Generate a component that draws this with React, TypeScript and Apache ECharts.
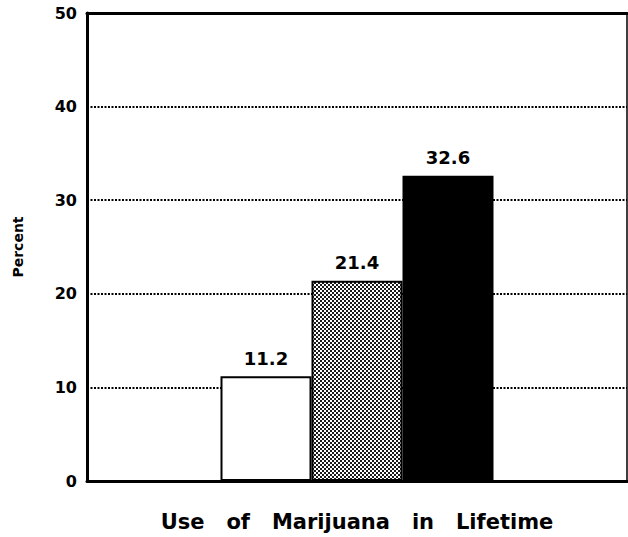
import React, { useEffect, useRef } from "react";
import * as echarts from "echarts";

const categories = ["Use of Marijuana in Lifetime"];
const seriesNames = ["Group A", "Group B", "Group C"];
const seriesValues = [11.2, 21.4, 32.6];
const yTicks = [0, 10, 20, 30, 40, 50];

function makePattern(): HTMLCanvasElement {
  const c = document.createElement("canvas");
  c.width = 4;
  c.height = 4;
  const ctx = c.getContext("2d")!;
  ctx.fillStyle = "#ffffff";
  ctx.fillRect(0, 0, 4, 4);
  ctx.fillStyle = "#1a1a1a";
  ctx.fillRect(0, 0, 2, 2);
  ctx.fillRect(2, 2, 2, 2);
  return c;
}

export default function App() {
  const ref = useRef<HTMLDivElement>(null);
  useEffect(() => {
    if (!ref.current) return;
    const chart = echarts.init(ref.current, undefined, { renderer: "svg" });
    const fills: any[] = ["#ffffff", { image: makePattern(), repeat: "repeat" }, "#000000"];
    const font = "'DejaVu Sans', 'Liberation Sans', Arial, sans-serif";
    chart.setOption({
      animation: false,
      backgroundColor: "#ffffff",
      grid: {
        left: 87,
        top: 13,
        right: 1,
        bottom: 56,
        show: true,
        borderColor: "#000",
        borderWidth: 1.5,
        backgroundColor: "transparent",
      },
      xAxis: [
        {
          type: "category",
          data: categories,
          position: "bottom",
          axisLine: { show: true, lineStyle: { color: "#000", width: 3 } },
          axisTick: { show: false },
          axisLabel: { show: false },
          name: "Use   of   Marijuana   in   Lifetime",
          nameLocation: "middle",
          nameGap: 30,
          nameTextStyle: { fontFamily: font, fontWeight: "bold", fontSize: 21, color: "#000" },
        },
        {
          type: "category",
          data: categories,
          position: "top",
          axisLine: { show: true, lineStyle: { color: "#000", width: 3 } },
          axisTick: { show: false },
          axisLabel: { show: false },
        },
      ],
      yAxis: {
        type: "value",
        min: yTicks[0],
        max: yTicks[yTicks.length - 1],
        interval: 10,
        axisLine: { show: true, lineStyle: { color: "#000", width: 3 } },
        axisTick: { show: false },
        axisLabel: {
          fontFamily: font,
          fontWeight: "bold",
          fontSize: 16,
          color: "#000",
          margin: 10,
        },
        splitLine: { show: true, lineStyle: { color: "#000", width: 2, type: [2, 1.5] } },
        name: "Percent",
        nameLocation: "middle",
        nameGap: 62,
        nameRotate: 90,
        nameTextStyle: { fontFamily: font, fontWeight: "bold", fontSize: 14, color: "#000" },
      },
      series: seriesNames.map((n, i) => ({
        name: n,
        type: "bar",
        data: [seriesValues[i]],
        barWidth: 91,
        barGap: "0%",
        itemStyle: { color: fills[i], borderColor: "#000", borderWidth: 2 },
        label: {
          show: true,
          position: "top",
          distance: 9,
          fontFamily: font,
          fontWeight: "bold",
          fontSize: 18,
          color: "#000",
          formatter: (p: any) => p.value.toFixed(1),
        },
      })),
    });
    return () => chart.dispose();
  }, []);
  return (
    <div
      ref={ref}
      style={{ position: "absolute", left: 0, top: 0, width: 628, height: 537 }}
    />
  );
}
